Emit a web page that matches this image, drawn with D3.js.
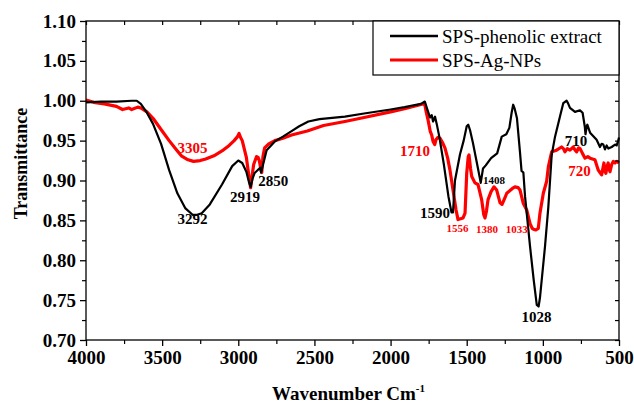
<!DOCTYPE html>
<html>
<head>
<meta charset="utf-8">
<script src="https://cdn.jsdelivr.net/npm/d3@7/dist/d3.min.js"></script>
<style>
  html, body { margin: 0; padding: 0; background: #fff; }
  svg { display: block; }
  text { font-family: "Liberation Serif", "Times New Roman", serif; }
</style>
</head>
<body>
<svg id="chart" width="634" height="404"></svg>
<script>
// FTIR spectra: wavenumber (cm^-1) and transmittance
const seriesNames = ["SPS-phenolic extract", "SPS-Ag-NPs"];
const seriesColors = ["#000000", "#ff0000"];

const extractWavenumber = [4000,3900,3800,3700,3667,3640,3600,3560,3507,3454,3400,3347,3300,3270,3240,3187,3107,3040,3000,2974,2947,2930,2919,2905,2894,2867,2856,2850,2840,2814,2760,2707,2650,2600,2540,2467,2300,2174,2000,1908,1800,1775,1762,1741,1730,1721,1708,1697,1680,1650,1620,1600,1590,1577,1544,1520,1500,1490,1478,1459,1426,1408,1393,1375,1340,1300,1270,1240,1220,1205,1195,1185,1170,1150,1140,1128,1117,1084,1060,1040,1028,1019,986,964,942,920,888,866,844,835,822,789,756,739,725,720,712,708,690,647,625,614,603,592,581,570,548,526,515,505,500];
const extractT = [0.998,0.999,0.999,1.000,1.000,0.996,0.985,0.971,0.946,0.913,0.884,0.865,0.857,0.857,0.859,0.870,0.895,0.918,0.925,0.922,0.911,0.898,0.892,0.903,0.909,0.914,0.916,0.910,0.918,0.938,0.949,0.955,0.962,0.968,0.974,0.977,0.980,0.984,0.989,0.992,0.996,0.999,0.991,0.979,0.982,0.974,0.980,0.971,0.955,0.920,0.880,0.860,0.860,0.900,0.933,0.950,0.968,0.970,0.963,0.947,0.915,0.897,0.915,0.919,0.928,0.934,0.955,0.958,0.966,0.985,0.995,0.990,0.978,0.935,0.912,0.910,0.880,0.817,0.775,0.744,0.742,0.753,0.817,0.867,0.932,0.955,0.980,0.997,1.000,0.997,0.991,0.986,0.988,0.985,0.968,0.958,0.968,0.970,0.960,0.951,0.942,0.946,0.945,0.939,0.944,0.940,0.942,0.945,0.944,0.950,0.954];

const agWavenumber = [4000,3950,3880,3800,3760,3720,3700,3660,3640,3600,3560,3500,3454,3400,3374,3330,3294,3250,3214,3160,3107,3060,3027,3005,2995,2985,2974,2947,2930,2919,2905,2899,2880,2870,2862,2850,2846,2838,2827,2800,2760,2707,2650,2547,2440,2300,2174,2000,1908,1788,1775,1765,1754,1740,1730,1721,1710,1702,1690,1675,1660,1643,1625,1610,1590,1570,1557,1540,1524,1511,1500,1490,1485,1475,1467,1446,1426,1402,1388,1380,1370,1360,1340,1321,1303,1281,1268,1250,1237,1200,1183,1162,1150,1128,1106,1084,1070,1062,1046,1030,1019,997,975,964,942,910,877,865,855,840,822,800,788,778,765,756,740,723,705,690,658,648,636,625,614,599,592,586,578,571,565,559,548,537,526,515,500];
const agT = [1.001,0.998,0.996,0.993,0.989,0.991,0.989,0.992,0.991,0.986,0.978,0.962,0.950,0.937,0.931,0.926,0.924,0.925,0.927,0.931,0.937,0.944,0.950,0.955,0.959,0.954,0.950,0.929,0.905,0.891,0.912,0.920,0.930,0.929,0.925,0.912,0.910,0.930,0.941,0.946,0.950,0.953,0.957,0.962,0.969,0.974,0.979,0.986,0.990,0.996,0.995,0.985,0.976,0.962,0.957,0.949,0.945,0.951,0.954,0.953,0.948,0.941,0.928,0.913,0.888,0.863,0.851,0.852,0.853,0.859,0.909,0.930,0.932,0.915,0.905,0.897,0.895,0.876,0.857,0.853,0.862,0.876,0.886,0.892,0.888,0.872,0.870,0.878,0.884,0.890,0.892,0.891,0.888,0.871,0.863,0.846,0.840,0.839,0.838,0.840,0.859,0.884,0.899,0.917,0.936,0.938,0.942,0.940,0.936,0.940,0.938,0.942,0.938,0.936,0.941,0.940,0.934,0.928,0.930,0.928,0.926,0.920,0.913,0.910,0.907,0.922,0.912,0.909,0.918,0.922,0.914,0.911,0.920,0.924,0.922,0.924,0.922];

// Axis ticks
const xMajorTicks = [4000,3500,3000,2500,2000,1500,1000,500];
const xMinorTicks = [3750,3250,2750,2250,1750,1250,750];
const yMajorTicks = [0.70,0.75,0.80,0.85,0.90,0.95,1.00,1.05,1.10];
const yMinorTicks = [0.725,0.775,0.825,0.875,0.925,0.975,1.025,1.075];

// Band assignments: label text, series index, anchor (wavenumber, transmittance)
const bandLabels = ["3305","3292","2919","2850","1710","1590","1556","1408","1380","1033","1028","710","720"];
const bandSeries = [1,0,0,0,1,0,1,0,1,1,0,0,1];
const bandAnchorWn = [3300,3300,2956,2770,1840,1709,1561,1321,1367,1172,1041,782,760];
const bandAnchorT = [0.941,0.852,0.880,0.900,0.937,0.859,0.840,0.901,0.839,0.839,0.729,0.950,0.912];
const bandSmall = [false,false,false,false,false,false,true,true,true,true,false,false,false];

const svg = d3.select("#chart");
const W = 634, H = 404;
const margin = { left: 86, right: 619, top: 21, bottom: 340 };

svg.append("rect").attr("width", W).attr("height", H).attr("fill", "#fff");

const x = d3.scaleLinear().domain([4000, 500]).range([margin.left, margin.right]);
const y = d3.scaleLinear().domain([0.70, 1.10]).range([margin.bottom, margin.top]);

// Spectra
const line = d3.line().x(d => x(d[0])).y(d => y(d[1]));
const extractData = extractWavenumber.map((w, i) => [w, extractT[i]]);
const agData = agWavenumber.map((w, i) => [w, agT[i]]);

const plot = svg.append("g");
plot.append("path").datum(agData)
  .attr("d", line).attr("fill", "none")
  .attr("stroke", seriesColors[1]).attr("stroke-width", 3.2)
  .attr("stroke-linejoin", "round");
plot.append("path").datum(extractData)
  .attr("d", line).attr("fill", "none")
  .attr("stroke", seriesColors[0]).attr("stroke-width", 2.2)
  .attr("stroke-linejoin", "round");

// Frame
svg.append("rect").attr("x", margin.left).attr("y", margin.top)
  .attr("width", margin.right - margin.left).attr("height", margin.bottom - margin.top)
  .attr("fill", "none").attr("stroke", "#000").attr("stroke-width", 1.3);

const tickFont = "bold 19px 'Liberation Serif', 'Times New Roman', serif";

// Bottom axis
const xAxis = svg.append("g").attr("transform", `translate(0,${margin.bottom})`)
  .call(d3.axisBottom(x).tickValues(xMajorTicks).tickSize(6).tickPadding(5).tickFormat(d3.format("d")));
xAxis.select(".domain").remove();
xAxis.selectAll("line").attr("stroke-width", 1.3);
xAxis.selectAll("text").style("font", tickFont).attr("fill", "#000");
svg.append("g").attr("transform", `translate(0,${margin.bottom})`)
  .call(d3.axisBottom(x).tickValues(xMinorTicks).tickSize(4).tickFormat(""))
  .call(g => g.select(".domain").remove())
  .selectAll("line").attr("stroke-width", 1.2);

// Left axis
const yAxis = svg.append("g").attr("transform", `translate(${margin.left},0)`)
  .call(d3.axisLeft(y).tickValues(yMajorTicks).tickSize(6).tickPadding(4).tickFormat(d3.format(".2f")));
yAxis.select(".domain").remove();
yAxis.selectAll("line").attr("stroke-width", 1.3);
yAxis.selectAll("text").style("font", tickFont).attr("fill", "#000");
svg.append("g").attr("transform", `translate(${margin.left},0)`)
  .call(d3.axisLeft(y).tickValues(yMinorTicks).tickSize(4).tickFormat(""))
  .call(g => g.select(".domain").remove())
  .selectAll("line").attr("stroke-width", 1.2);

// Mirrored inward ticks on top and right edges
svg.append("g").attr("transform", `translate(0,${margin.top})`)
  .call(d3.axisBottom(x).tickValues(xMajorTicks.concat(xMinorTicks)).tickSize(4).tickFormat(""))
  .call(g => g.select(".domain").remove())
  .selectAll("line").attr("stroke-width", 1.2);
svg.append("g").attr("transform", `translate(${margin.right},0)`)
  .call(d3.axisLeft(y).tickValues(yMajorTicks.concat(yMinorTicks)).tickSize(4).tickFormat(""))
  .call(g => g.select(".domain").remove())
  .selectAll("line").attr("stroke-width", 1.2);

// Axis titles
svg.append("text")
  .attr("transform", `translate(27,${(margin.top + margin.bottom) / 2 - 17}) rotate(-90)`)
  .attr("text-anchor", "middle")
  .style("font", "bold 18px 'Liberation Serif', 'Times New Roman', serif")
  .text("Transmittance");

const xt = svg.append("text")
  .attr("x", (margin.left + margin.right) / 2 - 4).attr("y", 400)
  .attr("text-anchor", "middle")
  .style("font", "bold 19px 'Liberation Serif', 'Times New Roman', serif");
xt.append("tspan").text("Wavenumber Cm");
xt.append("tspan").attr("dy", -8).style("font-size", "11px").text("-1");

// Band labels
svg.append("g").selectAll("text").data(bandLabels).join("text")
  .attr("x", (d, i) => x(bandAnchorWn[i]))
  .attr("y", (d, i) => y(bandAnchorT[i]))
  .attr("dy", "0.35em")
  .attr("text-anchor", "middle")
  .attr("fill", (d, i) => seriesColors[bandSeries[i]])
  .style("font-weight", "bold")
  .style("font-size", (d, i) => bandSmall[i] ? "11px" : "15px")
  .text(d => d);

// Legend
const lg = svg.append("g");
lg.append("rect").attr("x", 373).attr("y", margin.top).attr("width", margin.right - 373).attr("height", 54)
  .attr("fill", "#fff").attr("stroke", "#000").attr("stroke-width", 1.2);
seriesNames.forEach((name, i) => {
  const ly = 36 + i * 24;
  lg.append("line").attr("x1", 390).attr("x2", 438).attr("y1", ly).attr("y2", ly)
    .attr("stroke", seriesColors[i]).attr("stroke-width", i === 1 ? 3.2 : 2.4);
  lg.append("text").attr("x", 442).attr("y", ly).attr("dy", "0.35em")
    .style("font-size", "19px").text(name);
});
</script>
